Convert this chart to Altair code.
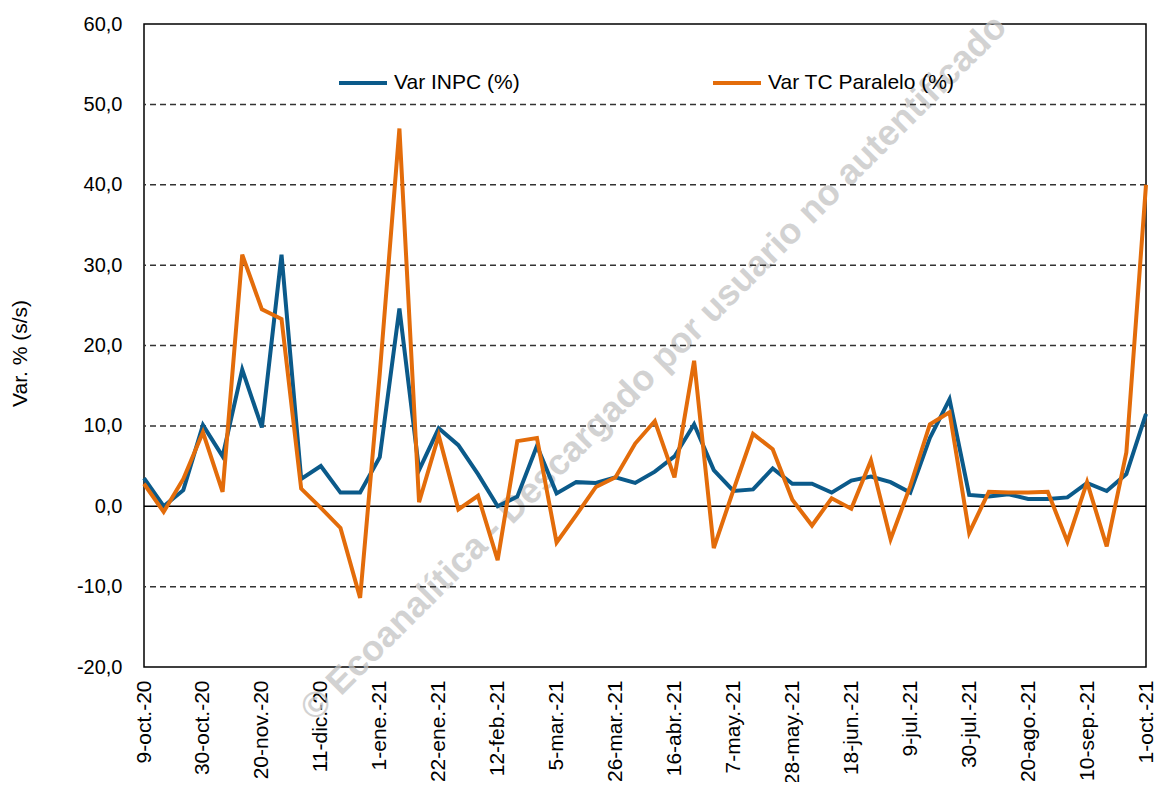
import datetime as dt
import json
import altair as alt
import pandas as pd

# ---------------- data ----------------
MESES = ["ene.", "feb.", "mar.", "abr.", "may.", "jun.",
         "jul.", "ago.", "sep.", "oct.", "nov.", "dic."]
inicio = dt.date(2020, 10, 9)
n_semanas = 52
fechas = []
for k in range(n_semanas):
    d = inicio + dt.timedelta(days=7 * k)
    fechas.append(f"{d.day}-{MESES[d.month - 1]}-{d.year % 100:02d}")

semana = list(range(n_semanas))
ticks_x = semana[::3]

var_inpc = [3.5, 0.0, 2.0, 10.1, 6.2, 17.0, 9.8, 31.3, 3.4, 5.0, 1.7, 1.7,
            6.1, 24.6, 4.5, 9.7, 7.6, 4.0, 0.0, 1.2, 7.5, 1.6, 3.0, 2.9,
            3.6, 2.9, 4.3, 6.2, 10.2, 4.5, 1.9, 2.1, 4.7, 2.8, 2.8, 1.7,
            3.2, 3.7, 3.0, 1.7, 8.5, 13.3, 1.4, 1.2, 1.5, 0.9, 0.9, 1.1,
            2.9, 1.9, 4.0, 11.5]

var_tc = [2.8, -0.7, 3.4, 9.2, 1.8, 31.3, 24.5, 23.3, 2.2, -0.2, -2.7, -11.4,
          16.5, 47.0, 0.5, 8.8, -0.4, 1.3, -6.7, 8.1, 8.5, -4.5, -1.1, 2.4,
          3.6, 7.8, 10.6, 3.6, 18.1, -5.2, 2.0, 9.0, 7.1, 0.8, -2.4, 1.0,
          -0.3, 5.7, -4.1, 2.5, 10.2, 11.7, -3.3, 1.8, 1.7, 1.7, 1.8, -4.4,
          3.0, -5.0, 6.7, 40.0]

series = ["Var INPC (%)", "Var TC Paralelo (%)"]
colores = ["#0B5A8A", "#E36C0A"]

y_ticks = [-20, -10, 0, 10, 20, 30, 40, 50, 60]
grid_vals = [-10, 10, 20, 30, 40, 50]
marca_agua = "© Ecoanalítica - Descargado por usuario no autentificado"

df = pd.DataFrame({
    "semana": semana * 2,
    "fecha": fechas * 2,
    "serie": [series[0]] * n_semanas + [series[1]] * n_semanas,
    "valor": var_inpc + var_tc,
})
df_grid = pd.DataFrame({"valor": grid_vals})
df_cero = pd.DataFrame({"valor": [0]})
df_wm = pd.DataFrame({"t": [marca_agua]})

FONT = "Liberation Sans"
yscale = alt.Scale(domain=[-20, 60], nice=False, zero=False)
xscale = alt.Scale(domain=[0, n_semanas - 1], nice=False, zero=False)

y_label_expr = ("replace(replace(format(datum.value, '.1f'), '.', ','), '\u2212', '-')")
x_label_expr = json.dumps(fechas) + "[round(datum.value)]"

y_axis = alt.Axis(values=y_ticks, labelExpr=y_label_expr,
                  title="Var. % (s/s)", titleAngle=270,
                  titleX=-124, titleY=329, titleAlign="center",
                  titleBaseline="middle", titleFont=FONT,
                  titleFontSize=21, titleFontWeight="normal",
                  titleColor="black", labelFont=FONT,
                  labelFontSize=20, labelColor="black",
                  labelPadding=22, ticks=False, domain=False,
                  grid=False)

watermark = alt.Chart(df_wm).mark_text(
    angle=315, font=FONT, fontSize=36, fontWeight="bold",
    color="#C4C4C4", opacity=0.75, align="center", baseline="middle"
).encode(text="t:N", x=alt.value(510), y=alt.value(344))

grid = alt.Chart(df_grid).mark_rule(
    color="#333333", strokeWidth=1.5, strokeDash=[6, 4]
).encode(y=alt.Y("valor:Q", scale=yscale, axis=y_axis))

cero = alt.Chart(df_cero).mark_rule(color="black", strokeWidth=1.5).encode(
    y=alt.Y("valor:Q", scale=yscale, axis=y_axis))

lineas = alt.Chart(df).mark_line(strokeWidth=4, strokeJoin="miter").encode(
    x=alt.X("semana:Q", scale=xscale,
            axis=alt.Axis(values=ticks_x, labelExpr=x_label_expr, title=None,
                          labelAngle=270, labelAlign="right",
                          labelBaseline="middle", labelPadding=13,
                          labelFlush=False, labelBound=False,
                          ticks=False, domain=False, grid=False,
                          labelFont=FONT, labelFontSize=21,
                          labelColor="black", labelOverlap=False)),
    y=alt.Y("valor:Q", scale=yscale, axis=y_axis),
    color=alt.Color("serie:N",
                    scale=alt.Scale(domain=series, range=colores),
                    legend=alt.Legend(title=None, orient="none",
                                      legendX=193, legendY=33,
                                      direction="horizontal",
                                      symbolType="stroke", symbolSize=2304,
                                      symbolStrokeWidth=4, labelFont=FONT,
                                      labelFontSize=21, labelColor="black",
                                      labelOffset=5, labelLimit=400,
                                      columnPadding=185)),
    order=alt.Order("serie:N"),
    tooltip=["fecha:N", "serie:N", "valor:Q"],
)

chart = alt.layer(watermark, grid, cero, lineas).properties(
    width=1002, height=643,
    autosize=alt.AutoSizeParams(type="none"),
    padding={"left": 136, "top": 16, "right": 9, "bottom": 115},
    background="white",
).configure_view(stroke="black", strokeWidth=1.5)

chart.save("out.html", embed_options={"renderer": "svg", "actions": False})
